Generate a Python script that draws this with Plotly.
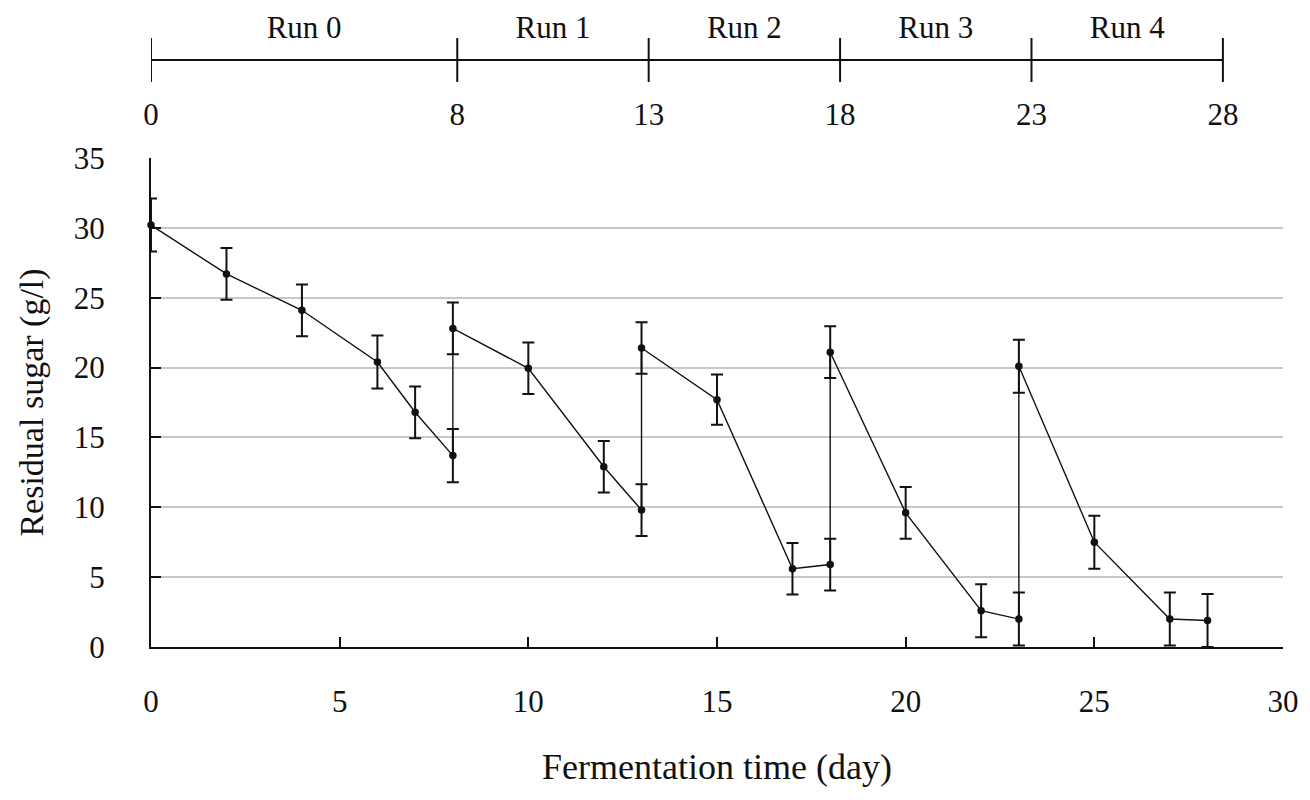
import plotly.graph_objects as go

# ---- data ----
days = [0, 2, 4, 6, 7, 8, 8, 10, 12, 13, 13, 15, 17, 18, 18, 20, 22, 23, 23, 25, 27, 28]
sugar = [30.2, 26.7, 24.1, 20.4, 16.8, 13.7, 22.8, 19.95, 12.9, 9.8, 21.4, 17.7,
         5.6, 5.9, 21.1, 9.6, 2.6, 2.0, 20.1, 7.5, 2.0, 1.9]
sugar_err = [1.9, 1.85, 1.85, 1.9, 1.85, 1.9, 1.85, 1.85, 1.85, 1.85, 1.85, 1.8,
             1.85, 1.85, 1.85, 1.85, 1.9, 1.9, 1.9, 1.9, 1.9, 1.9]

run_bounds = [0, 8, 13, 18, 23, 28]
run_labels = ["Run 0", "Run 1", "Run 2", "Run 3", "Run 4"]

x_ticks = [0, 5, 10, 15, 20, 25, 30]
y_ticks = [0, 5, 10, 15, 20, 25, 30, 35]

FONT = "Liberation Serif, Times New Roman, serif"
INK = "#111111"

fig = go.Figure()

# main series with error bars
fig.add_trace(go.Scatter(
    x=days, y=sugar, mode="lines+markers",
    line=dict(color=INK, width=1.4),
    marker=dict(color=INK, size=7.5),
    error_y=dict(type="data", array=sugar_err, visible=True,
                 color=INK, thickness=2, width=6),
    showlegend=False, cliponaxis=False,
    xaxis="x", yaxis="y",
))

# ---- top "run" axis (separate subplot in page-pixel units) ----
AX_Y, TICK_TOP, TICK_BOT, NUM_Y, RUN_Y = 60, 38, 82, 117, 30
fig.add_trace(go.Scatter(
    x=[run_bounds[0], run_bounds[-1]], y=[AX_Y, AX_Y], mode="lines",
    line=dict(color=INK, width=2), showlegend=False, hoverinfo="skip",
    xaxis="x2", yaxis="y2", cliponaxis=False,
))
tx, ty = [], []
for b in run_bounds:
    tx += [b, b, None]
    ty += [TICK_TOP, TICK_BOT, None]
fig.add_trace(go.Scatter(
    x=tx, y=ty, mode="lines", line=dict(color=INK, width=2),
    showlegend=False, hoverinfo="skip", xaxis="x2", yaxis="y2", cliponaxis=False,
))
fig.add_trace(go.Scatter(
    x=run_bounds, y=[NUM_Y] * len(run_bounds), mode="text",
    text=[str(b) for b in run_bounds], textposition="middle center",
    textfont=dict(family=FONT, size=31, color=INK),
    showlegend=False, hoverinfo="skip", xaxis="x2", yaxis="y2", cliponaxis=False,
))
mids = [(run_bounds[i] + run_bounds[i + 1]) / 2 for i in range(len(run_labels))]
fig.add_trace(go.Scatter(
    x=mids, y=[RUN_Y] * len(mids), mode="text",
    text=run_labels, textposition="middle center",
    textfont=dict(family=FONT, size=31, color=INK),
    showlegend=False, hoverinfo="skip", xaxis="x2", yaxis="y2", cliponaxis=False,
))

# page has an 8px body margin: compensate
main_top = 489 / 639

fig.update_layout(
    width=1310, height=800,
    margin=dict(l=143, r=35, t=0, b=161, autoexpand=False),
    paper_bgcolor="white", plot_bgcolor="white",
    font=dict(family=FONT, color=INK, size=31),
    xaxis=dict(
        domain=[0, 1], range=[0, 30], tickvals=x_ticks,
        ticks="inside", ticklen=10, tickwidth=1.8, tickcolor=INK,
        showline=True, linecolor=INK, linewidth=2, showgrid=False, zeroline=False,
        tickfont=dict(family=FONT, size=31, color=INK), ticklabelstandoff=26,
        title=dict(text="Fermentation time (day)", font=dict(family=FONT, size=36, color=INK),
                   standoff=36),
        anchor="y", automargin=False,
    ),
    yaxis=dict(
        domain=[0, main_top], range=[0, 35], tickvals=y_ticks,
        ticks="inside", ticklen=10, tickwidth=1.8, tickcolor=INK,
        showline=True, linecolor=INK, linewidth=2,
        showgrid=True, gridcolor="#c8c8c8", gridwidth=2, zeroline=False,
        tickfont=dict(family=FONT, size=31, color=INK), ticklabelstandoff=38,
        title=dict(text="Residual sugar (g/l)", font=dict(family=FONT, size=34, color=INK),
                   standoff=20),
        anchor="x", automargin=False,
    ),
    xaxis2=dict(domain=[0, 1], range=[0, 29.57], visible=False, anchor="y2"),
    yaxis2=dict(domain=[main_top, 1], range=[158, 8], visible=False, anchor="x2"),
)

fig.write_html("out.html")
